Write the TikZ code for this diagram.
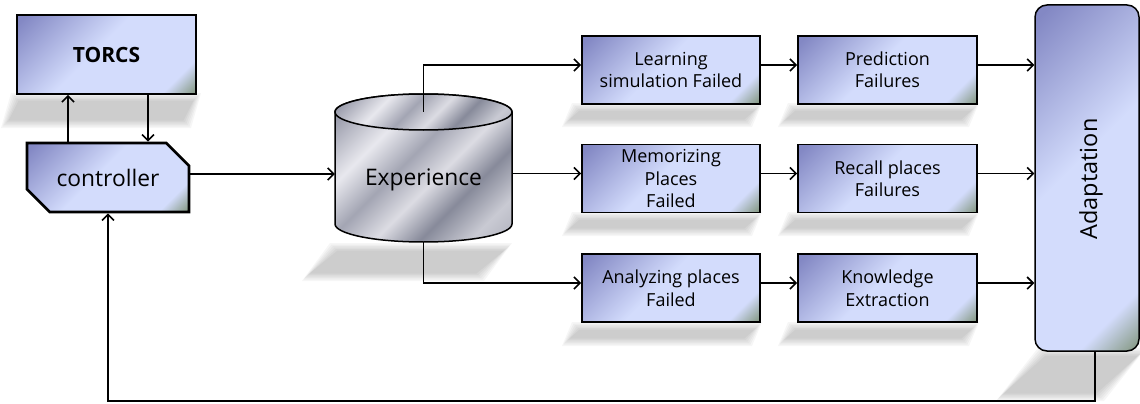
\documentclass[tikz,border=0pt]{standalone}
\usepackage{fontspec}
\setmainfont{Open Sans}
\usetikzlibrary{arrows.meta,shapes.misc,calc}
\definecolor{bdark}{HTML}{8388C4}
\definecolor{blight}{HTML}{D3DCFC}
\definecolor{bgreen}{HTML}{849882}
\definecolor{cga}{HTML}{9A9CAB}
\definecolor{cgb}{HTML}{E8E8EE}
\definecolor{cgc}{HTML}{A3A5B3}
\definecolor{cgd}{HTML}{DCDCE3}
\definecolor{cge}{HTML}{878A9A}
\definecolor{cgf}{HTML}{C9CAD3}
\pgfdeclarehorizontalshading{boxshade}{100bp}{color(0bp)=(bdark); color(17bp)=(bdark); color(46bp)=(blight); color(76bp)=(blight); color(85bp)=(bgreen); color(100bp)=(bgreen)}
\pgfdeclarehorizontalshading{cylshade}{100bp}{color(0bp)=(cga); color(20bp)=(cga); color(34bp)=(cgb); color(45bp)=(cgc); color(55bp)=(cgd); color(65bp)=(cge); color(76bp)=(cgf); color(100bp)=(cge)}
\newcommand\softshadow[5]{%
  \foreach \e in {4,2.5,1,-0.5,-2,-3.5}{%
    \fill[black, opacity=0.035] ({#1-(\e)},{#3-(\e)}) -- ({#2+(\e)},{#3-(\e)}) -- ({#2-#5+(\e)},{#4+(\e)}) -- ({#1-#5-(\e)},{#4+(\e)}) -- cycle;
  }}
\begin{document}
\begin{tikzpicture}[x=1pt,y=-1pt,
  box/.style={draw=black, line width=1.8pt, shading=boxshade, shading angle=-45,
    minimum width=178pt, minimum height=68pt, inner sep=0pt, align=center,
    font=\fontsize{18}{22.5}\selectfont},
  arr/.style={line width=1.6pt, -{Straight Barb[length=6pt,width=12pt]}},
  bigtext/.style={font=\fontsize{22.8}{26}\selectfont}
]
\useasboundingbox (0,0) rectangle (1140,404);
% shadows
\softshadow{15}{197}{97}{124}{10}
\softshadow{576}{758}{107}{123}{10}
\softshadow{576}{758}{216}{232}{10}
\softshadow{576}{758}{326}{342}{10}
\softshadow{792}{975}{107}{123}{10}
\softshadow{792}{975}{216}{232}{10}
\softshadow{792}{975}{326}{342}{10}
\softshadow{334}{508}{247}{277}{28}
\softshadow{1042}{1142}{352}{397}{42}
% nodes
\node[box, minimum width=179pt, minimum height=79pt, font=\bfseries\fontsize{21}{25}\selectfont] (torcs) at (106.5,54.5) {TORCS};
\node[box, chamfered rectangle, chamfered rectangle corners={north east,south west},
  chamfered rectangle xsep=14pt, chamfered rectangle ysep=14pt,
  minimum width=162pt, minimum height=69pt, line width=2.6pt, bigtext] (ctrl) at (108,177.5) {controller};
% cylinder
\path[draw=black, line width=1.5pt, shading=cylshade, shading angle=-45]
  (335,112) -- (335,224) arc[start angle=180, end angle=0, x radius=88.5, y radius=18]
  -- (512,112) arc[start angle=0, end angle=-180, x radius=88.5, y radius=18] -- cycle;
\path[draw=black, line width=1.5pt, shading=cylshade, shading angle=-45]
  (423.5,112) ellipse[x radius=88.5, y radius=18];
\node[minimum width=177pt, minimum height=148pt, inner sep=0pt] (exp) at (423.5,168) {};
\node[bigtext] (explabel) at (423.5,180) {Experience};
\node[box] (l1) at (671,70) {Learning\\simulation Failed};
\node[box] (l2) at (671,178.5) {Memorizing\\Places\\Failed};
\node[box] (l3) at (671,288) {Analyzing places\\Failed};
\node[box, minimum width=179pt] (p1) at (887.5,70) {Prediction\\Failures};
\node[box, minimum width=179pt] (p2) at (887.5,178.5) {Recall places\\Failures};
\node[box, minimum width=179pt] (p3) at (887.5,288) {Knowledge\\Extraction};
\node[box, rounded corners=12pt, minimum width=104pt, minimum height=346pt, line width=1.5pt] (adapt) at (1087,178) {};
\node[rotate=90, font=\fontsize{23.5}{27}\selectfont] (adlabel) at (1091,179) {Adaptation};
% connectors
\coordinate (xa) at (68,0);
\coordinate (xb) at (148,0);
\coordinate (ymid) at (0,174);
\coordinate (fb) at (0,401);
\coordinate (exptop) at ([yshift=-18pt]exp.north);
\draw[arr] (ctrl.north -| xa) -- (torcs.south -| xa);
\draw[arr] (torcs.south -| xb) -- (ctrl.north -| xb);
\draw[arr] (ctrl.east |- ymid) -- (exp.west |- ymid);
\draw[arr] (exptop) |- ([yshift=5pt]l1.west);
\draw[arr] ([yshift=-5.5pt]exp.east) -- ([yshift=5pt]l2.west);
\draw[arr] (exp.south) |- ([yshift=5pt]l3.west);
\draw[arr] ([yshift=5pt]l1.east) -- ([yshift=5pt]p1.west);
\draw[arr] ([yshift=5pt]l2.east) -- ([yshift=5pt]p2.west);
\draw[arr] ([yshift=5pt]l3.east) -- ([yshift=5pt]p3.west);
\coordinate (r1) at ([yshift=5pt]p1.east);
\coordinate (r2) at ([yshift=5pt]p2.east);
\coordinate (r3) at ([yshift=5pt]p3.east);
\draw[arr] (r1) -- (r1 -| adapt.west);
\draw[arr] (r2) -- (r2 -| adapt.west);
\draw[arr] (r3) -- (r3 -| adapt.west);
\draw[arr] ([xshift=8pt]adapt.south) |- (fb -| ctrl.south) -- (ctrl.south);
\end{tikzpicture}
\end{document}
